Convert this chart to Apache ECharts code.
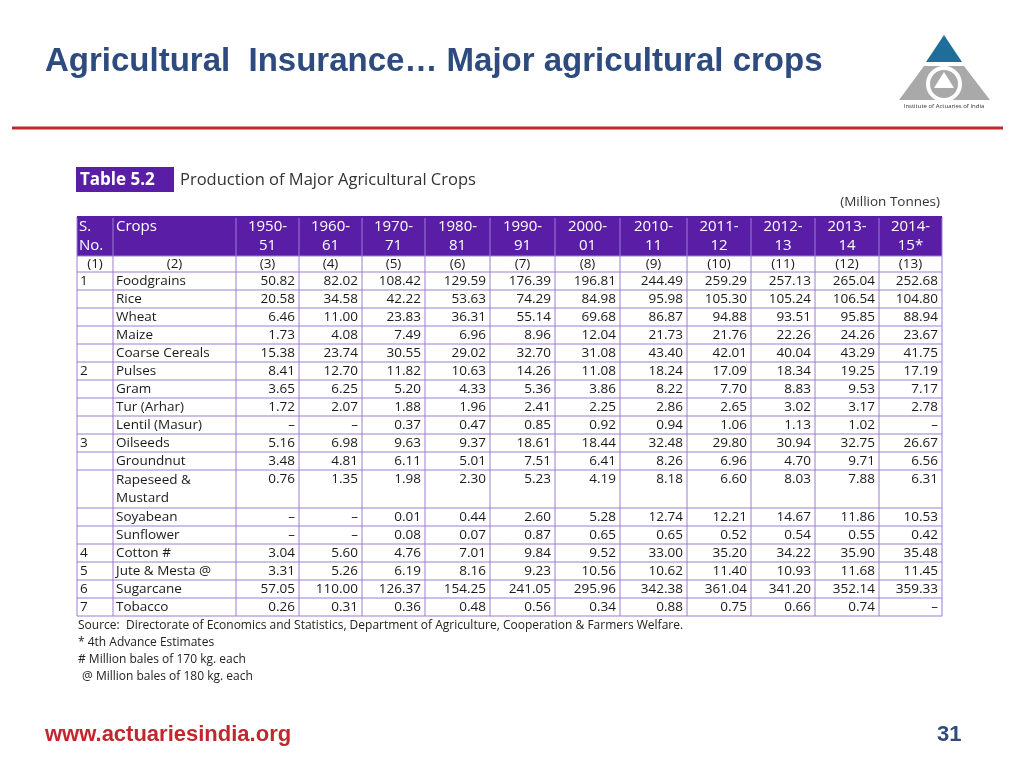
<!DOCTYPE html>
<html><head><meta charset="utf-8">
<script src="https://cdn.jsdelivr.net/npm/echarts@6/dist/echarts.min.js"></script>
<style>html,body{margin:0;padding:0;background:#fff}#c{width:1024px;height:768px}</style>
</head><body><div id="c"></div>
<script>
var chart = echarts.init(document.getElementById('c'));

var yearTop = ['1950-', '1960-', '1970-', '1980-', '1990-', '2000-', '2010-', '2011-', '2012-', '2013-', '2014-'];
var yearBot = ['51', '61', '71', '81', '91', '01', '11', '12', '13', '14', '15*'];
var colNums = ['(1)', '(2)', '(3)', '(4)', '(5)', '(6)', '(7)', '(8)', '(9)', '(10)', '(11)', '(12)', '(13)'];
var sno = ['1', '', '', '', '', '2', '', '', '', '3', '', '', '', '', '4', '5', '6', '7'];
var crops = ['Foodgrains', 'Rice', 'Wheat', 'Maize', 'Coarse Cereals', 'Pulses', 'Gram', 'Tur (Arhar)', 'Lentil (Masur)',
  'Oilseeds', 'Groundnut', 'Rapeseed &\nMustard', 'Soyabean', 'Sunflower', 'Cotton #', 'Jute & Mesta @', 'Sugarcane', 'Tobacco'];
var values = [
  ['50.82', '82.02', '108.42', '129.59', '176.39', '196.81', '244.49', '259.29', '257.13', '265.04', '252.68'],
  ['20.58', '34.58', '42.22', '53.63', '74.29', '84.98', '95.98', '105.30', '105.24', '106.54', '104.80'],
  ['6.46', '11.00', '23.83', '36.31', '55.14', '69.68', '86.87', '94.88', '93.51', '95.85', '88.94'],
  ['1.73', '4.08', '7.49', '6.96', '8.96', '12.04', '21.73', '21.76', '22.26', '24.26', '23.67'],
  ['15.38', '23.74', '30.55', '29.02', '32.70', '31.08', '43.40', '42.01', '40.04', '43.29', '41.75'],
  ['8.41', '12.70', '11.82', '10.63', '14.26', '11.08', '18.24', '17.09', '18.34', '19.25', '17.19'],
  ['3.65', '6.25', '5.20', '4.33', '5.36', '3.86', '8.22', '7.70', '8.83', '9.53', '7.17'],
  ['1.72', '2.07', '1.88', '1.96', '2.41', '2.25', '2.86', '2.65', '3.02', '3.17', '2.78'],
  ['–', '–', '0.37', '0.47', '0.85', '0.92', '0.94', '1.06', '1.13', '1.02', '–'],
  ['5.16', '6.98', '9.63', '9.37', '18.61', '18.44', '32.48', '29.80', '30.94', '32.75', '26.67'],
  ['3.48', '4.81', '6.11', '5.01', '7.51', '6.41', '8.26', '6.96', '4.70', '9.71', '6.56'],
  ['0.76', '1.35', '1.98', '2.30', '5.23', '4.19', '8.18', '6.60', '8.03', '7.88', '6.31'],
  ['–', '–', '0.01', '0.44', '2.60', '5.28', '12.74', '12.21', '14.67', '11.86', '10.53'],
  ['–', '–', '0.08', '0.07', '0.87', '0.65', '0.65', '0.52', '0.54', '0.55', '0.42'],
  ['3.04', '5.60', '4.76', '7.01', '9.84', '9.52', '33.00', '35.20', '34.22', '35.90', '35.48'],
  ['3.31', '5.26', '6.19', '8.16', '9.23', '10.56', '10.62', '11.40', '10.93', '11.68', '11.45'],
  ['57.05', '110.00', '126.37', '154.25', '241.05', '295.96', '342.38', '361.04', '341.20', '352.14', '359.33'],
  ['0.26', '0.31', '0.36', '0.48', '0.56', '0.34', '0.88', '0.75', '0.66', '0.74', '–']
];
var notes = ['Source:  Directorate of Economics and Statistics, Department of Agriculture, Cooperation & Farmers Welfare.',
  '* 4th Advance Estimates', '# Million bales of 170 kg. each', '@ Million bales of 180 kg. each'];

var colX = [77, 113, 236, 299, 362, 425, 490, 555, 620, 687, 751, 815, 879, 942];
var rowH = 18;
var PURPLE = '#5A1EA6', LINE = '#9C7FD0', FONT = '"Open Sans", sans-serif';

var els = [];
function txt(x, y, s, o) {
  els.push({type: 'text', x: x, y: y, style: Object.assign({text: s, font: '13.5px ' + FONT, fill: '#1a1a1a', verticalAlign: 'middle'}, o || {})});
}
function line(x1, y1, x2, y2, c, w) {
  els.push({type: 'line', shape: {x1: x1, y1: y1, x2: x2, y2: y2}, style: {stroke: c || LINE, lineWidth: w || 1}});
}

// slide chrome
txt(45, 62, 'Agricultural  Insurance\u2026 Major agricultural crops', {font: 'bold 33px "Liberation Sans", Arial, sans-serif', fill: '#2D4B7E'});
line(12, 128, 1003, 128, '#C0282D', 3);
txt(45, 735, 'www.actuariesindia.org', {font: 'bold 22px "Liberation Sans", Arial, sans-serif', fill: '#C0282D'});
txt(937, 735, '31', {font: 'bold 22px "Liberation Sans", Arial, sans-serif', fill: '#2D4B7E'});
// logo
els.push({type: 'polygon', shape: {points: [[944, 35], [926, 62], [962, 62]]}, style: {fill: '#1F6E9A'}});
els.push({type: 'polygon', shape: {points: [[924, 66], [964, 66], [990, 100], [899, 100]]}, style: {fill: '#A9A9A9'}});
els.push({type: 'circle', shape: {cx: 944, cy: 84, r: 16}, style: {fill: 'none', stroke: '#fff', lineWidth: 4}});
els.push({type: 'polygon', shape: {points: [[944, 72], [934, 88], [954, 88]]}, style: {fill: '#fff'}});
txt(944, 106, 'Institute of Actuaries of India', {font: '6px ' + FONT, fill: '#333', align: 'center'});

// table caption
els.push({type: 'rect', shape: {x: 76, y: 167, width: 98, height: 25}, style: {fill: PURPLE}});
txt(80, 180, 'Table 5.2', {font: 'bold 17px ' + FONT, fill: '#fff'});
txt(180, 180, 'Production of Major Agricultural Crops', {font: '16.5px ' + FONT, fill: '#333'});
txt(940, 202, '(Million Tonnes)', {font: '13.5px ' + FONT, fill: '#333', align: 'right'});

// header
var hTop = 217, hBot = 256;
els.push({type: 'rect', shape: {x: colX[0], y: hTop, width: colX[13] - colX[0], height: hBot - hTop}, style: {fill: PURPLE}});
var hf = {font: '15px ' + FONT, fill: '#fff'};
txt(79, 227, 'S.', hf); txt(79, 246, 'No.', hf); txt(116, 227, 'Crops', hf);
yearTop.forEach(function (s, i) {
  var cx = (colX[i + 2] + colX[i + 3]) / 2;
  txt(cx, 227, s, Object.assign({align: 'center'}, hf));
  txt(cx, 246, yearBot[i], Object.assign({align: 'center'}, hf));
});
colNums.forEach(function (s, i) { txt((colX[i] + colX[i + 1]) / 2, 264, s, {align: 'center'}); });

// body
var y = 272, rowTops = [hBot, y];
crops.forEach(function (c, r) {
  var h = c.indexOf('\n') >= 0 ? rowH * 2 + 2 : rowH;
  var mid = y + rowH / 2;
  txt(80, mid, sno[r]);
  txt(116, h > rowH ? y + h / 2 : mid, c, {lineHeight: 18});
  values[r].forEach(function (v, i) { txt(colX[i + 3] - 4, mid, v, {align: 'right'}); });
  y += h; rowTops.push(y);
});
rowTops.forEach(function (yy) { line(colX[0], yy, colX[13], yy); });
colX.forEach(function (xx) { line(xx, hTop, xx, y); });
line(colX[0], hTop, colX[13], hTop, PURPLE, 2);

notes.forEach(function (n, i) {
  txt(i === 3 ? 82 : 78, y + 10 + i * 17, n, {font: '12px ' + FONT, fill: '#222'});
});

chart.setOption({animation: false, graphic: {elements: els}});
</script></body></html>
